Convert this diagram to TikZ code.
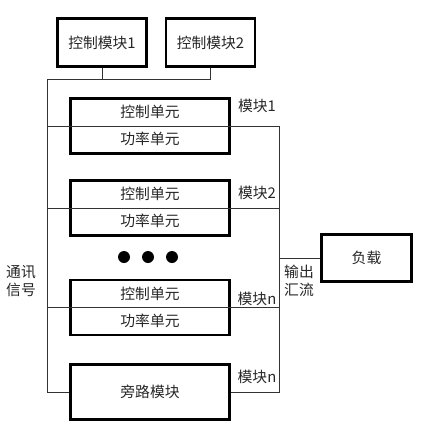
\documentclass[tikz,border=0pt]{standalone}
\usepackage{fontspec}
\newfontfamily\cjk{Noto Sans CJK SC}
\usepackage{xcolor}
\usepackage{tikz}
\usetikzlibrary{positioning}

\begin{document}
\begin{tikzpicture}[x=1pt, y=-1pt,
  every node/.style={font=\cjk\fontsize{14.8}{18}\selectfont, text=black!85, inner sep=1pt},
  box/.style={draw, line width=2.6pt, inner sep=0pt},
  ctrl/.style={box, minimum width=89pt, minimum height=48pt},
  unit/.style={box, minimum width=159pt, minimum height=55pt},
  dot/.style={circle, fill=black, minimum size=12pt, inner sep=0pt},
  wire/.style={line width=0.8pt, black!80}]
  \useasboundingbox (0,0) rectangle (425,436);

  % control modules
  \node[ctrl] (c1) at (102,42.5) {控制模块1};
  \node[ctrl] (c2) at (210.5,42.5) {控制模块2};

  % power modules
  \node[unit] (m1) at (150,126) {};
  \node[unit] (m2) at (150,208) {};
  \node[unit] (mn) at (150,307.5) {};
  \node[unit] (bp) at (150,392) {旁路模块};
  \node[box, minimum width=90pt, minimum height=47pt] (load) at (366.5,258) {负载};

  \foreach \m in {m1,m2,mn} {
    \node (\m c) at ([yshift=14pt]\m) {控制单元};
    \node (\m p) at ([yshift=-13pt]\m) {功率单元};
  }

  \foreach \i/\x in {1/124,2/148,3/172}
    \node[dot] (d\i) at (\x,257) {};

  % buses
  \coordinate (lt) at (47,79);
  \coordinate (lb) at (47,392);
  \coordinate (rt) at (279,126);
  \coordinate (rb) at (279,392);

  \draw[wire] (c2.south) |- (lt) -- (lb) -- (bp.west);
  \draw[wire] (c1.south) -- (c1.south |- lt);
  \draw[wire] (bp.east) -- (rb) -- (rt);
  \foreach \m in {m1,m2,mn}
    \draw[wire] (lt |- \m) -- (rt |- \m);
  \draw[wire] (load.west) -- (load.west -| rt);

  % labels
  \node (n1) at (257,106) {模块1};
  \node (n2) at (257,193) {模块2};
  \node (n3) at (257,299) {模块n};
  \node (n4) at (257,377) {模块n};
  \node[align=center] (out) at (299,281) {输出\\汇流};
  \node[align=center] (sig) at (21,281) {通讯\\信号};
\end{tikzpicture}
\end{document}
